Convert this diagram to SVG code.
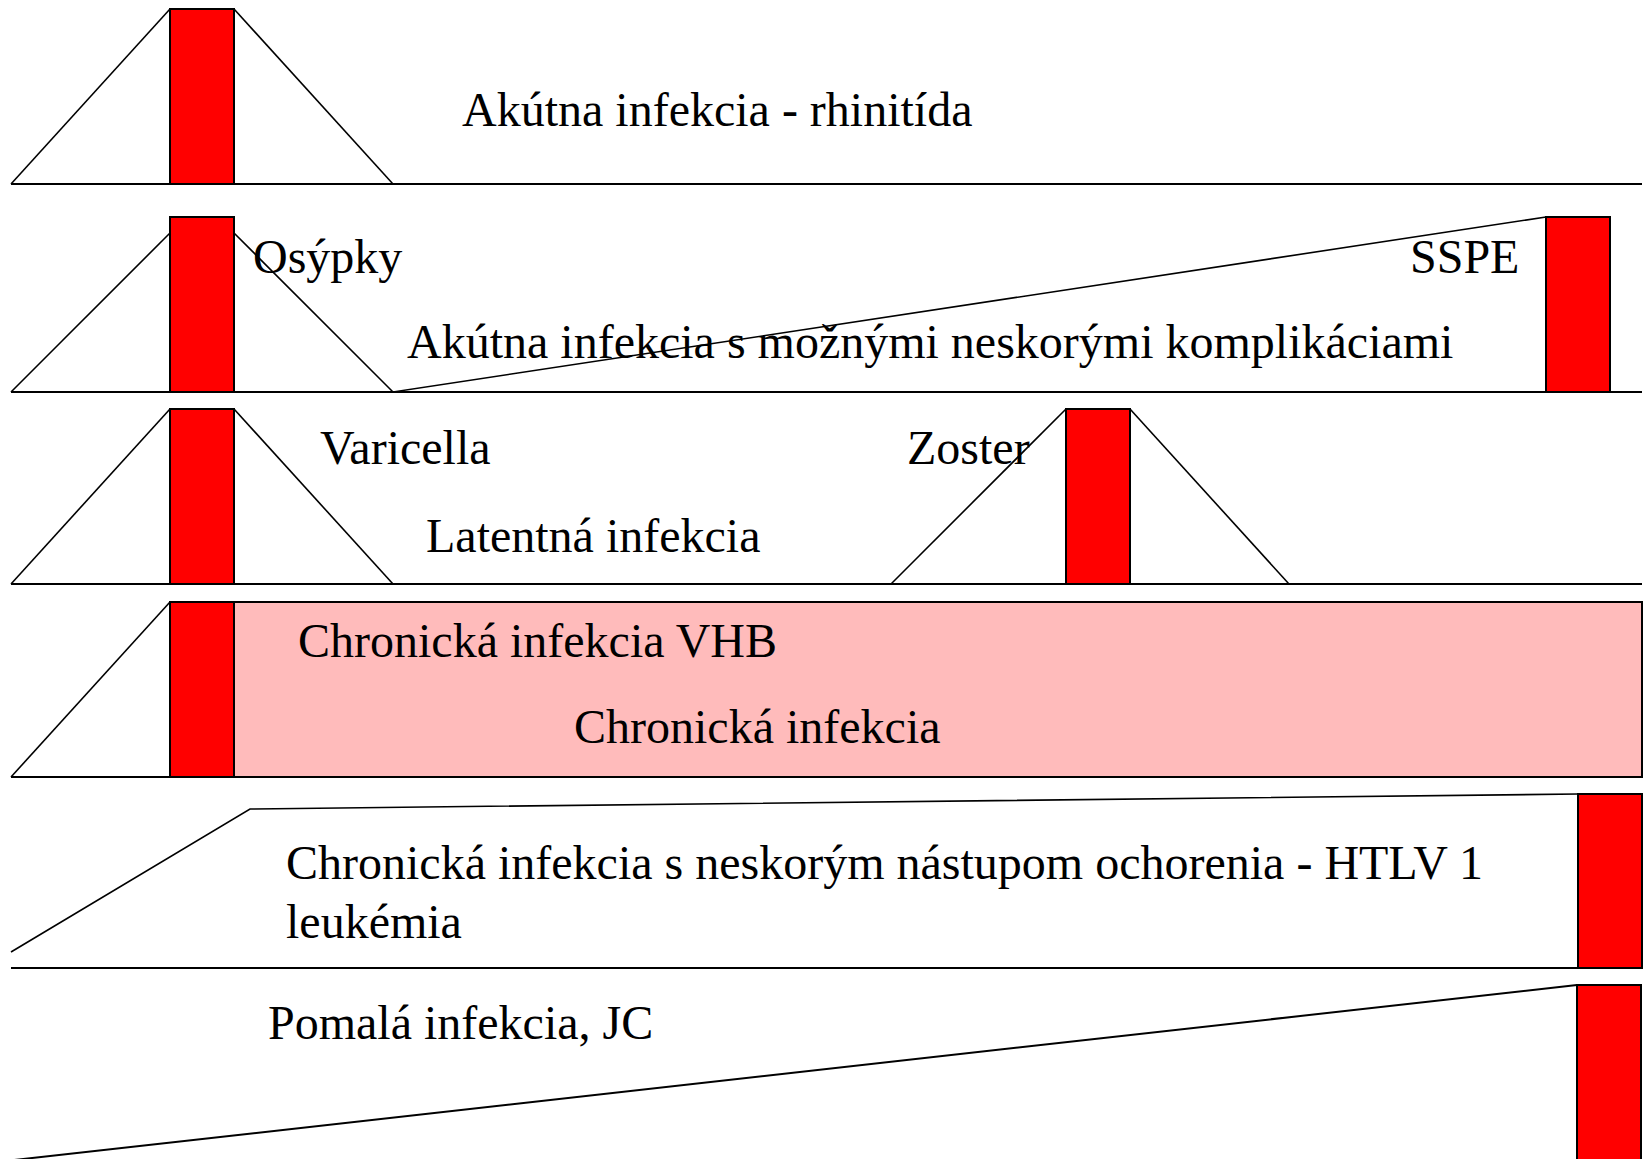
<svg xmlns="http://www.w3.org/2000/svg" width="1649" height="1159" viewBox="0 0 1649 1159">
<style>
.bar{fill:#FF0000;stroke:#000;stroke-width:2}
.pink{fill:#FFBBBB;stroke:#000;stroke-width:2}
.slope{fill:none;stroke:#000;stroke-width:1.6}
.base{fill:none;stroke:#000;stroke-width:2.2}
.t{font-family:"Liberation Serif","Times New Roman",serif;font-size:48px;fill:#000}
</style>
<rect width="1649" height="1159" fill="#fff"/>
<g id="connectors">
<line class="base" x1="11" y1="184" x2="1642" y2="184"/>
<line class="base" x1="11" y1="392" x2="1642" y2="392"/>
<line class="base" x1="11" y1="584" x2="1642" y2="584"/>
<line class="base" x1="11" y1="777" x2="1642" y2="777"/>
<line class="base" x1="11" y1="968" x2="1642" y2="968"/>
</g>
<g id="row1-acute">
<polyline class="slope" points="11,184 170,9"/>
<polyline class="slope" points="234,9 393,184"/>
<rect class="bar" x="170" y="9" width="64" height="175"/>
<text class="t" x="462" y="126">Akútna infekcia - rhinitída</text>
</g>
<g id="row2-measles">
<polyline class="slope" points="11,392 170,233"/>
<polyline class="slope" points="234,233 393,392 1546,217"/>
<rect class="bar" x="170" y="217" width="64" height="175"/>
<rect class="bar" x="1546" y="217" width="64" height="175"/>
<text class="t" x="253" y="273">Osýpky</text>
<text class="t" x="1410" y="273">SSPE</text>
<text class="t" x="407" y="358">Akútna infekcia s možnými neskorými komplikáciami</text>
</g>
<g id="row3-latent">
<polyline class="slope" points="11,584 170,409"/>
<polyline class="slope" points="234,409 393,584"/>
<rect class="bar" x="170" y="409" width="64" height="175"/>
<polyline class="slope" points="891,584 1066,409"/>
<polyline class="slope" points="1130,409 1289,584"/>
<rect class="bar" x="1066" y="409" width="64" height="175"/>
<text class="t" x="320" y="464">Varicella</text>
<text class="t" x="426" y="552">Latentná infekcia</text>
<text class="t" x="907" y="464">Zoster</text>
</g>
<g id="row4-chronic">
<polyline class="slope" points="11,777 170,602"/>
<rect class="pink" x="234" y="602" width="1408" height="175"/>
<rect class="bar" x="170" y="602" width="64" height="175"/>
<text class="t" x="298" y="657">Chronická infekcia VHB</text>
<text class="t" x="574" y="743">Chronická infekcia</text>
</g>
<g id="row5-htlv">
<polyline class="slope" points="11,952 250,809 1578,794"/>
<rect class="bar" x="1578" y="794" width="64" height="174"/>
<text class="t" x="286" y="879">Chronická infekcia s neskorým nástupom ochorenia - HTLV 1</text>
<text class="t" x="286" y="938">leukémia</text>
</g>
<g id="row6-slow">
<line class="slope" x1="0" y1="1161.6" x2="1577" y2="985" style="stroke-width:2"/>
<rect class="bar" x="1577" y="985" width="64" height="190"/>
<text class="t" x="268" y="1039">Pomalá infekcia, JC</text>
</g>
</svg>
